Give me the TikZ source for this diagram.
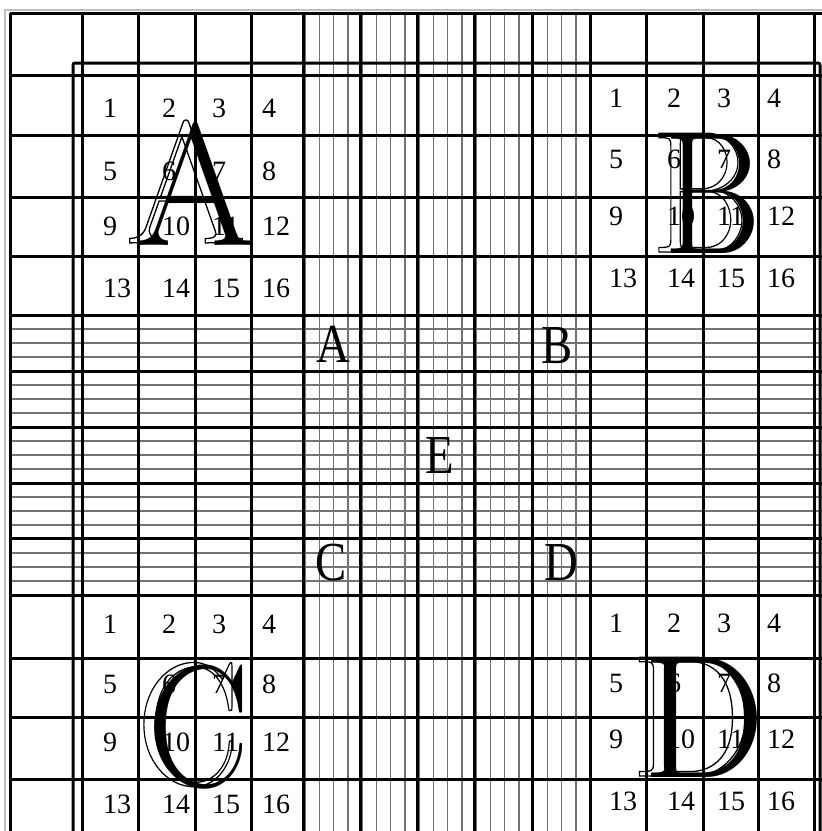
\documentclass[tikz,border=0pt]{standalone}
\usepackage{fontspec}
\setmainfont{Liberation Serif}
\newfontfamily\lmbig{lmroman17-regular.otf}
\newcommand\outl[1]{\special{pdf:literal direct 1 Tr 1.3 w}#1\special{pdf:literal direct 0 Tr}}
\begin{document}
\begin{tikzpicture}[x=1pt,y=-1pt,
  major/.style={line width=3pt, black},
  minor/.style={line width=1.5pt, black!55},
  pageframe/.style={line width=1.5pt, black!25},
  num/.style={anchor=base west, inner sep=0pt, font=\fontsize{28}{28}\selectfont},
  mid/.style={anchor=base, inner sep=0pt, font=\fontsize{55}{55}\selectfont, xscale=0.85},
  big/.style={anchor=base, inner sep=0pt, font=\lmbig\fontsize{174}{174}\selectfont},
]
\fill[white] (0,0) rectangle (822,831);
\useasboundingbox (0,0) rectangle (822,831);
\begin{scope}
\clip (0,0) rectangle (822,831);
\draw[pageframe] (5,831) -- (5,10) -- (822,10);
\foreach \k in {0,...,20} \draw[minor] ({305+\k*14.25},13) -- ({305+\k*14.25},831);
\foreach \k in {0,...,20} \draw[minor] (10,{315+\k*14}) -- (822,{315+\k*14});
\foreach \x in {10,82,138,195,251,303,360,417,474,532,590,646,703,758,814}
  \draw[major] (\x,13) -- (\x,831);
\foreach \y in {13,75,135,197,256,315,371,427,483,538,595,658,717,779}
  \draw[major] (10,\y) -- (822,\y);
\draw[major, rounded corners=2pt] (73,831) -- (73,63) -- (820,63) -- (820,831);
\end{scope}
% big letters
\node[big] (bigA) at (196,245) {A};
\node[big] (bigAo) at (186,243) {\outl{A}};
\node[big, xscale=0.86] (bigB) at (712,253) {B};
\node[big, xscale=0.86] (bigBo) at (700,252) {\outl{B}};
\node[big, xscale=0.88] (bigC) at (199,786) {C};
\node[big, xscale=0.88] (bigCo) at (188,784) {\outl{C}};
\node[big] (bigD) at (704,777) {D};
\node[big] (bigDo) at (692,776) {\outl{D}};
% middle letters
\node[mid] (mA) at (333,362) {A};
\node[mid] (mB) at (557,363) {B};
\node[mid] (mC) at (331,580) {C};
\node[mid] (mD) at (561,580) {D};
\node[mid] (mE) at (440,473) {E};
% numbers
\foreach \r [count=\i from 0] in {117,180,235,297} {
  \foreach \c [count=\j from 1] in {103,162,212,262} {
    \pgfmathtruncatemacro\n{\i*4+\j}
    \node[num] (a\n) at (\c,\r) {\n};}}
\foreach \r [count=\i from 0] in {107,168,225,287} {
  \foreach \c [count=\j from 1] in {609,667,717,767} {
    \pgfmathtruncatemacro\n{\i*4+\j}
    \node[num] (b\n) at (\c,\r) {\n};}}
\foreach \r [count=\i from 0] in {633,693,751,813} {
  \foreach \c [count=\j from 1] in {103,162,212,262} {
    \pgfmathtruncatemacro\n{\i*4+\j}
    \node[num] (c\n) at (\c,\r) {\n};}}
\foreach \r [count=\i from 0] in {632,692,748,810} {
  \foreach \c [count=\j from 1] in {609,667,717,767} {
    \pgfmathtruncatemacro\n{\i*4+\j}
    \node[num] (d\n) at (\c,\r) {\n};}}
\end{tikzpicture}
\end{document}
